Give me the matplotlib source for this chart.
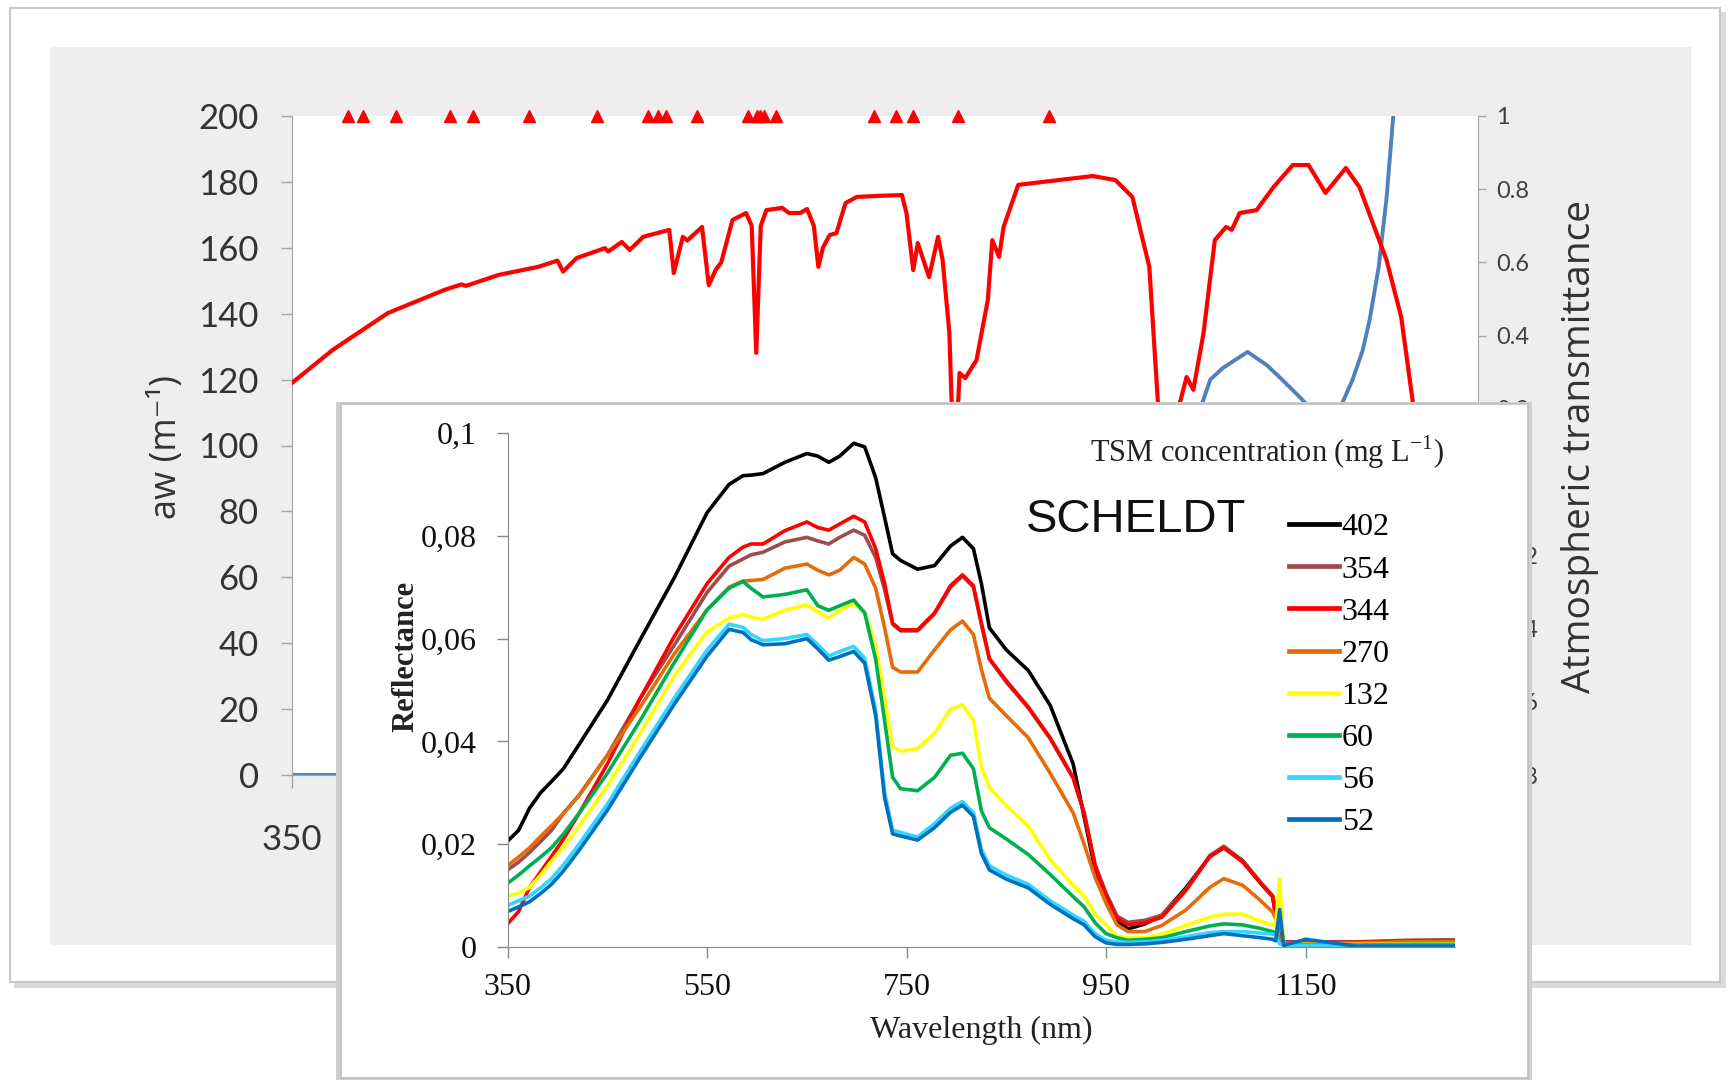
import numpy as np
import matplotlib.pyplot as plt
from matplotlib.patches import Rectangle
from matplotlib.lines import Line2D

W, H = 1730, 1080

# ---- background chart: atmospheric transmittance (right axis) ----
trans_wl = [350, 386, 435, 485, 500, 504, 533, 568, 585, 590, 602, 627, 630, 642,
            649, 661, 684, 688, 696, 700, 713, 719, 725, 730, 740, 752, 757, 761,
            765, 770, 784, 790, 800, 806, 812, 816, 820, 826, 832, 840, 850, 870,
            890, 894, 900, 904, 914, 922, 926, 932, 935, 938, 941, 946, 956, 966,
            970, 976, 980, 993, 1015, 1059, 1079, 1094, 1109, 1118, 1124, 1128,
            1133, 1142, 1148, 1157, 1167, 1177, 1182, 1189, 1204, 1219, 1236, 1250,
            1265, 1283, 1295, 1319, 1332, 1344, 1355, 1370, 1385, 1400]
trans_val = [0.271, 0.361, 0.462, 0.525, 0.540, 0.536, 0.566, 0.588, 0.605, 0.575,
             0.612, 0.639, 0.630, 0.656, 0.634, 0.670, 0.689, 0.571, 0.670, 0.660,
             0.697, 0.538, 0.579, 0.600, 0.716, 0.735, 0.700, 0.353, 0.700, 0.743,
             0.749, 0.735, 0.735, 0.746, 0.700, 0.588, 0.640, 0.675, 0.680, 0.762,
             0.779, 0.782, 0.784, 0.735, 0.579, 0.653, 0.560, 0.670, 0.607, 0.407,
             0.120, 0.100, 0.298, 0.284, 0.333, 0.497, 0.661, 0.615, 0.697, 0.812,
             0.820, 0.836, 0.825, 0.779, 0.588, 0.150, 0.050, 0.050, 0.180, 0.287,
             0.252, 0.407, 0.661, 0.697, 0.689, 0.735, 0.743, 0.806, 0.866, 0.866,
             0.790, 0.858, 0.806, 0.607, 0.451, 0.180, 0.050, 0.0, 0.0, 0.030]

# ---- background chart: pure water absorption aw (left axis) ----
aw_wl = [350, 400, 500, 600, 700, 750, 800, 850, 900, 950, 975, 1000, 1050, 1100,
         1120, 1140, 1150, 1156, 1163, 1174, 1196, 1213, 1225, 1236, 1247, 1262,
         1280, 1289, 1298, 1304, 1307, 1312, 1319, 1325, 1335, 1350]
aw_val = [0.0, 0.0, 0.03, 0.24, 0.6, 2.6, 2.0, 4.3, 6.8, 39, 45, 36, 15, 20,
          45, 90, 107, 113, 120, 123.5, 128.4, 124.4, 120.5, 116.8, 113, 107,
          113, 120, 129, 138, 144, 154, 175, 200, 240, 320]

# sensor band centres (triangles along the top)
band_wl = [400, 412.5, 442.5, 490, 510, 560, 620, 665, 673.75, 681.25, 708.75,
           753.75, 761.25, 764.375, 767.5, 778.75, 865, 885, 900, 940, 1020]

# ---- inset: Scheldt reflectance spectra ----
wl = [350, 361, 372, 383, 394, 406, 422, 450, 483, 517, 550, 572, 586, 594, 606,
      628, 650, 661, 672, 683, 697, 708, 719, 728, 736, 744, 761, 778, 794, 806,
      817, 825, 833, 850, 872, 894, 917, 928, 939, 950, 961, 972, 989, 1006, 1030,
      1054, 1068, 1087, 1105, 1117, 1120, 1124, 1128, 1150, 1200, 1250, 1300]

r402 = [.0206, .0227, .027, .030, .0322, .0347, .0395, .048, .0598, .0718, .0845,
        .090, .0917, .0918, .0921, .0943, .096, .0955, .0943, .0955, .098, .0973,
        .0913, .0835, .0765, .0752, .0735, .0742, .078, .0797, .0775, .0707, .0621,
        .0578, .0538, .047, .0356, .0253, .015, .009, .005, .0035, .0045, .0062,
        .0115, .0176, .0193, .0168, .0124, .0098, .006, .0015, .001, .0009, .0009,
        .0012, .0013]
r354 = [.015, .0165, .0184, .0205, .0227, .026, .0296, .0373, .0484, .0587, .069,
        .0741, .0755, .0763, .0768, .0788, .0797, .079, .0784, .0797, .0811, .0801,
        .0758, .0695, .0628, .0615, .0615, .0648, .070, .0722, .070, .0628, .056,
        .0515, .0465, .0405, .0328, .026, .016, .0105, .006, .0048, .0052, .0062,
        .0112, .0178, .0196, .0168, .0126, .010, .0066, .0015, .001, .001, .001,
        .0013, .0014]
r344 = [.0045, .0069, .0116, .0146, .0176, .021, .0261, .0356, .0484, .0604, .0707,
        .0758, .0778, .0784, .0784, .081, .0827, .0816, .0811, .0823, .0838, .0827,
        .0775, .0707, .063, .0617, .0617, .065, .0703, .0724, .0703, .063, .0561,
        .0518, .0467, .0407, .033, .0261, .0158, .0099, .0056, .0043, .0047, .0058,
        .011, .0176, .0193, .0165, .0124, .0098, .0064, .0013, .0009, .0009, .0009,
        .0011, .0012]
r270 = [.0158, .0175, .0193, .0215, .0236, .026, .0296, .0373, .0467, .057, .0656,
        .070, .0712, .0713, .0715, .0737, .0745, .0733, .0724, .0733, .0758, .0745,
        .0698, .0621, .0544, .0535, .0535, .0578, .0617, .0634, .0608, .054, .0484,
        .045, .0407, .0338, .0261, .020, .0135, .0085, .0043, .003, .003, .0042,
        .0072, .0116, .0133, .012, .009, .0068, .0055, .0012, .0008, .0007, .0008,
        .001, .0011]
r132 = [.0099, .0105, .0116, .014, .0167, .0195, .0236, .0313, .0416, .0527, .0613,
        .064, .0647, .0642, .0638, .0655, .0666, .0652, .064, .0655, .0668, .0651,
        .0587, .0484, .039, .0381, .0386, .0416, .0463, .0471, .0441, .035, .031,
        .0275, .0235, .017, .012, .0099, .0064, .0043, .0021, .0018, .0018, .0025,
        .0042, .0058, .0064, .0064, .005, .0043, .004, .0133, .0004, .0005, .0005,
        .0006, .0006]
r60 = [.0124, .014, .0158, .0175, .0193, .022, .0261, .0338, .0441, .0553, .0656,
       .0698, .0711, .0698, .0681, .0686, .0695, .0664, .0655, .0664, .0675, .065,
       .056, .044, .033, .0308, .0304, .033, .0373, .0377, .0347, .0265, .0232,
       .021, .018, .0141, .0098, .0078, .0047, .0026, .0018, .0013, .0015, .0018,
       .003, .0041, .0045, .0043, .0036, .003, .0028, .0008, .0005, .0004, .0004,
       .0005, .0005]
r56 = [.0081, .009, .0099, .0115, .0133, .016, .0201, .0278, .0381, .0484, .0578,
       .0628, .0622, .0608, .0596, .060, .0608, .0588, .0566, .0575, .0585, .0562,
       .046, .030, .0227, .0223, .0214, .024, .027, .0283, .0261, .019, .0158,
       .014, .0122, .009, .0062, .005, .0026, .0013, .001, .0009, .001, .0013,
       .002, .0028, .003, .003, .0027, .0025, .0024, .0006, .0004, .0003, .0003,
       .0003, .0003]
r52 = [.0069, .0078, .0088, .0104, .0122, .0148, .0189, .0266, .0369, .0472, .0566,
       .0618, .0612, .0598, .0588, .059, .060, .058, .0558, .0565, .0575, .0552,
       .045, .029, .022, .0216, .0208, .0232, .0262, .0276, .0254, .0182, .015,
       .0132, .0115, .0083, .0055, .0043, .002, .0008, .0005, .0005, .0006, .0009,
       .0015, .0022, .0026, .0022, .0018, .0015, .0012, .0073, .0003, .0015, .0002,
       .0002, .0002]

tsm_labels = ["402", "354", "344", "270", "132", "60", "56", "52"]
tsm_series = [r402, r354, r344, r270, r132, r60, r56, r52]
tsm_colors = ["#000000", "#9E4B4B", "#FF0000", "#E46C0A", "#FFFF00", "#00B050",
              "#33D6FF", "#0070C0"]

inset_yticks = [0, 0.02, 0.04, 0.06, 0.08, 0.1]
inset_yticklabels = ["0", "0,02", "0,04", "0,06", "0,08", "0,1"]
inset_xticks = [350, 550, 750, 950, 1150]

TICKFONT = ["Lato", "DejaVu Sans"]
OPEN = ["Open Sans", "DejaVu Sans"]
SERIF = ["Liberation Serif", "DejaVu Serif"]


def box(fig, x0, y0, x1, y1, **kw):
    # rectangle in pixel coords, origin top-left
    r = Rectangle((x0 / W, 1 - y1 / H), (x1 - x0) / W, (y1 - y0) / H,
                  transform=fig.transFigure, **kw)
    fig.patches.append(r)
    return r


def main():
    fig = plt.figure(figsize=(W / 100, H / 100), dpi=100)
    fig.patch.set_facecolor("white")

    # outer card + grey chart area
    box(fig, 14, 12, 1726, 988, facecolor="#DADADA", edgecolor="none", zorder=-12)
    box(fig, 10, 8, 1720, 982, facecolor="white", edgecolor="#C8C8C8", lw=1.5, zorder=-11)
    box(fig, 50, 47, 1691, 945, facecolor="#EEEEEE", edgecolor="none", zorder=-10)

    # ---- main chart ----
    ax = fig.add_axes([292 / W, 1 - 775 / H, 1186 / W, 659 / H])
    ax.set_zorder(1)
    ax.set_facecolor("white")
    ax.plot(aw_wl, aw_val, color="#4F81BD", lw=2.8)
    ax.plot(band_wl, [200] * len(band_wl), ls="none", marker="^", ms=9,
            color="#FF0000", clip_on=False, zorder=5)
    ax.set_xlim(350, 1400)
    ax.set_ylim(0, 200)
    ax.set_yticks(np.arange(0, 201, 20))
    ax.set_xticks([350, 550, 750, 950, 1150, 1350])
    for s in ["top", "right"]:
        ax.spines[s].set_visible(False)
    for s in ["left", "bottom"]:
        ax.spines[s].set_color("#A6A6A6")
    ax.tick_params(axis="y", direction="out", length=8, width=1, color="#A6A6A6",
                   pad=16, labelsize=25, labelcolor="#333333")
    ax.tick_params(axis="x", direction="out", length=9, width=1, color="#A6A6A6",
                   pad=26, labelsize=25, labelcolor="#333333")
    for lab in ax.get_xticklabels() + ax.get_yticklabels():
        lab.set_family(TICKFONT)
    ax.set_ylabel("aw (m⁻¹)", family=OPEN, fontsize=26, color="#333333")
    ax.yaxis.set_label_coords(-0.090, 0.498)

    ax2 = ax.twinx()
    ax2.set_zorder(2)
    ax2.plot(trans_wl, trans_val, color="#FF0000", lw=3.0)
    ax2.set_ylim(-0.8, 1)
    ax2.set_yticks(np.round(np.arange(-0.8, 1.01, 0.2), 1))
    ax2.set_yticklabels(["-0.8", "-0.6", "-0.4", "-0.2", "0", "0.2", "0.4", "0.6", "0.8", "1"])
    for s in ["top", "left", "bottom"]:
        ax2.spines[s].set_visible(False)
    ax2.spines["right"].set_color("#A6A6A6")
    ax2.tick_params(axis="y", direction="out", length=6, width=1, color="#A6A6A6",
                    pad=7, labelsize=17, labelcolor="#404040")
    for lab in ax2.get_yticklabels():
        lab.set_family(TICKFONT)
    ax2.set_ylabel("Atmospheric transmittance", family=OPEN, fontsize=28,
                   color="#333333", rotation=90)
    ax2.yaxis.set_label_coords(1.070, 0.498)

    # ---- inset card ----
    box(fig, 336, 402, 1532, 1080, facecolor="#CFCFCF", edgecolor="none", zorder=3)
    box(fig, 341, 404, 1528, 1078, facecolor="white", edgecolor="#BDBDBD", lw=1.2, zorder=3.5)

    ins = fig.add_axes([507.6 / W, 1 - 947 / H, 947.6 / W, 514 / H])
    ins.set_zorder(4)
    ins.patch.set_alpha(0)
    for lab, ys, col in zip(tsm_labels, tsm_series, tsm_colors):
        ins.plot(wl, ys, color=col, lw=2.6, label=lab)
    ins.set_xlim(350, 1300)
    ins.set_ylim(0, 0.1)
    ins.set_yticks(inset_yticks)
    ins.set_yticklabels(inset_yticklabels)
    ins.set_xticks(inset_xticks)
    for s in ["top", "right"]:
        ins.spines[s].set_visible(False)
    for s in ["left", "bottom"]:
        ins.spines[s].set_color("#888888")
    ins.tick_params(direction="out", length=8, width=1, color="#888888",
                    labelsize=23, labelcolor="#111111")
    ins.tick_params(axis="y", pad=14)
    ins.tick_params(axis="x", pad=11)
    for lab in ins.get_xticklabels() + ins.get_yticklabels():
        lab.set_family(SERIF)
    ins.set_xlabel("Wavelength (nm)", family=SERIF, fontsize=23, color="#222222")
    ins.xaxis.set_label_coords(0.4996, -0.134)
    ins.set_ylabel("Reflectance", family=SERIF, fontsize=22, weight="bold", color="#222222")
    ins.yaxis.set_label_coords(-0.0925, 0.566)

    handles = [Line2D([], [], color=c, lw=3.4) for c in tsm_colors]
    leg = ins.legend(handles, tsm_labels, loc="upper left",
                     bbox_to_anchor=(1289 / W, 1 - 513 / H), bbox_transform=fig.transFigure,
                     frameon=False, handlelength=1.55, handletextpad=0.1,
                     labelspacing=0.40, borderpad=0, borderaxespad=0,
                     prop={"family": SERIF, "size": 23})
    leg.set_zorder(6)

    fig.text(1090 / W, 1 - 452 / H, r"TSM concentration (mg L$^{\mathdefault{-1}}$)",
             family=SERIF, fontsize=22, color="#222222", ha="left", va="center", zorder=6)
    fig.text(1026 / W, 1 - 520 / H, "SCHELDT", family=["Liberation Sans", "DejaVu Sans"],
             fontsize=34, color="#111111", ha="left", va="center", zorder=6)

    fig.savefig("out.png", dpi=100)


if __name__ == "__main__":
    main()
